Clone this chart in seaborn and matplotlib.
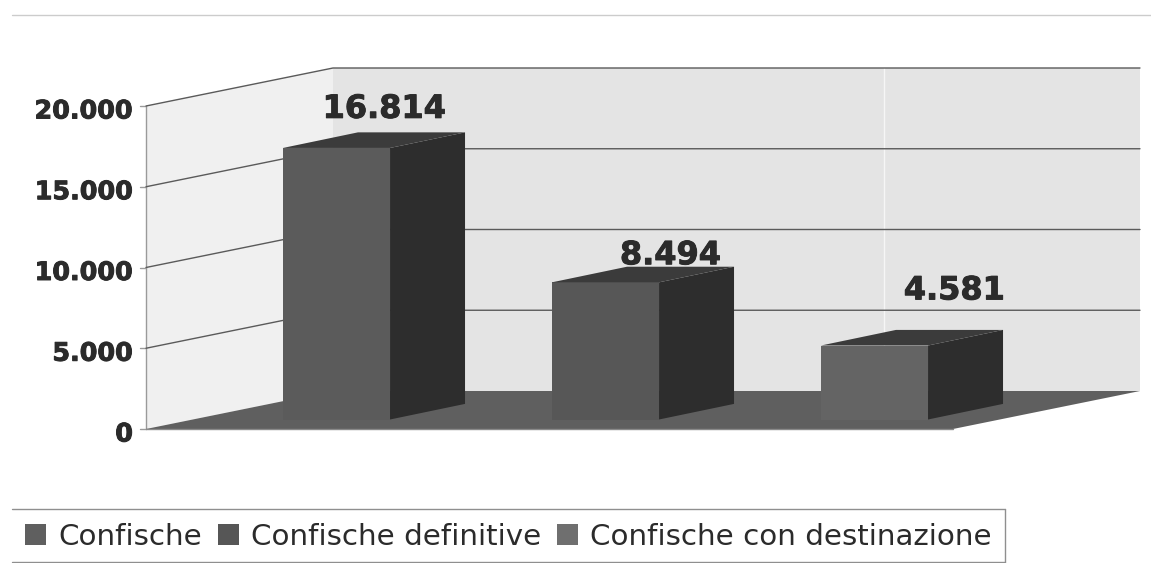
import matplotlib
matplotlib.use("Agg")
import matplotlib.pyplot as plt
import matplotlib.patheffects as pe
from matplotlib.lines import Line2D
import seaborn as sns

# Data
categories = ["Confische", "Confische definitive", "Confische con destinazione"]
values = [16814, 8494, 4581]
value_labels = ["16.814", "8.494", "4.581"]
tick_values = [0, 5000, 10000, 15000, 20000]
tick_labels = ["0", "5.000", "10.000", "15.000", "20.000"]

# Colours
front_colors = ["#5b5b5b", "#575757", "#646464"]
legend_colors = ["#5f5f5f", "#565656", "#6f6f6f"]
SIDE = "#2d2d2d"
TOP = "#3b3b3b"
FLOOR = "#5f5f5f"
LEFT_WALL = "#f0f0f0"
BACK_WALL = "#e4e4e4"
GRID = "#5a5a5a"
TEXT = "#2b2b2b"

# Scale of the page: pixels per category step / per unit of value
W, H = 1151, 563
PX_X = 269.0
PX_Y = 0.01615
CAT0_PX = 336.5
BASE_PX = 419.5


def dx(px):
    return px / PX_X


def dy(px):
    return px / PX_Y


sns.set_theme(style="white")
plt.rcParams["font.family"] = "DejaVu Sans"

fig = plt.figure(figsize=(W / 100, H / 100), dpi=100)
ax = fig.add_axes([0, 0, 1, 1])

sns.barplot(x=categories, y=values, hue=categories, palette=front_colors, width=0.398,
            saturation=1, linewidth=0, legend=False, ax=ax, zorder=3)
bars = list(ax.patches)

ax.set_xlim(-CAT0_PX / PX_X, (W - CAT0_PX) / PX_X)
ax.set_ylim(-(H - BASE_PX) / PX_Y, BASE_PX / PX_Y)
ax.set_axis_off()

# 3D box: frame corners, depth of walls and of bars
X_LEFT = dx(146 - CAT0_PX)
X_RIGHT = dx(953 - CAT0_PX)
Y_FRONT = dy(-9.5)
WALL_DX, WALL_DY = dx(187), dy(38)
BAR_DX, BAR_DY = dx(75), dy(15.6)
TOP_VALUE = tick_values[-1]
HEAVY = [pe.withStroke(linewidth=0.7, foreground=TEXT)]

ax.fill([X_LEFT, X_LEFT + WALL_DX, X_LEFT + WALL_DX, X_LEFT],
        [Y_FRONT, Y_FRONT + WALL_DY, Y_FRONT + WALL_DY + TOP_VALUE, Y_FRONT + TOP_VALUE],
        color=LEFT_WALL, lw=0, zorder=1)
ax.fill([X_LEFT + WALL_DX, X_RIGHT + WALL_DX, X_RIGHT + WALL_DX, X_LEFT + WALL_DX],
        [Y_FRONT + WALL_DY, Y_FRONT + WALL_DY, Y_FRONT + WALL_DY + TOP_VALUE, Y_FRONT + WALL_DY + TOP_VALUE],
        color=BACK_WALL, lw=0, zorder=1)
ax.fill([X_LEFT, X_RIGHT, X_RIGHT + WALL_DX, X_LEFT + WALL_DX],
        [Y_FRONT, Y_FRONT, Y_FRONT + WALL_DY, Y_FRONT + WALL_DY],
        color=FLOOR, lw=0, zorder=2)
ax.plot([X_LEFT, X_RIGHT], [Y_FRONT, Y_FRONT], color="#8a8a8a", lw=1, zorder=2)

# scan streak on the back wall
ax.plot([dx(884 - CAT0_PX)] * 2, [Y_FRONT + WALL_DY, Y_FRONT + WALL_DY + TOP_VALUE],
        color="#f6f6f6", lw=1, zorder=1.2)

# Grid and tick labels
ax.plot([X_LEFT, X_LEFT], [Y_FRONT, Y_FRONT + TOP_VALUE], color="#9a9a9a", lw=1, zorder=1.5)
for v, lab in zip(tick_values, tick_labels):
    y = Y_FRONT + v
    ax.plot([X_LEFT - dx(6), X_LEFT], [y, y], color="#9a9a9a", lw=1, zorder=1.5)
    ax.text(X_LEFT - dx(13), y - dy(5.5), lab, ha="right", va="center", fontsize=18.3,
            fontweight="bold", color=TEXT, path_effects=HEAVY)
    if v > 0:
        ax.plot([X_LEFT, X_LEFT + WALL_DX, X_RIGHT + WALL_DX],
                [y, y + WALL_DY, y + WALL_DY], color=GRID, lw=1, zorder=1.5)

# Side and top faces come from the bars seaborn drew
label_offsets = [(48, 23), (65, 11), (80, 39)]
for bar, lab, off in zip(bars, value_labels, label_offsets):
    x0, w, h = bar.get_x(), bar.get_width(), bar.get_height()
    x1 = x0 + w
    ax.fill([x1, x1 + BAR_DX, x1 + BAR_DX, x1], [0, BAR_DY, h + BAR_DY, h],
            color=SIDE, lw=0, zorder=3)
    ax.fill([x0, x1, x1 + BAR_DX, x0 + BAR_DX], [h, h, h + BAR_DY, h + BAR_DY],
            color=TOP, lw=0, zorder=3)
    ax.annotate(lab, (x0 + w / 2, h + BAR_DY), xytext=off, textcoords="offset pixels",
                ha="center", va="center", fontsize=23, fontweight="bold", color=TEXT, zorder=4,
                path_effects=HEAVY)

# Legend, with the box open on the left as in the scan
handles = [plt.Rectangle((0, 0), 1, 1, color=c, lw=0) for c in legend_colors]
ax.legend(handles, categories, ncol=3, loc="center left", bbox_to_anchor=(25 / W, 1 - 537 / H),
          bbox_transform=fig.transFigure, frameon=False, fontsize=21.2, borderpad=0, borderaxespad=0,
          handlelength=0.7, handleheight=0.7, handletextpad=0.42, columnspacing=0.55,
          labelcolor=TEXT)

for xs, ys, col in [((12, 1005), (509, 509), "#8f8f8f"),
                    ((1005, 1005), (509, 562), "#8f8f8f"),
                    ((12, 1005), (562, 562), "#8f8f8f"),
                    ((12, 1151), (15, 15), "#cccccc")]:
    fig.add_artist(Line2D([x / W for x in xs], [1 - y / H for y in ys], color=col, lw=1))

fig.savefig("out.png", dpi=100, facecolor="white")
